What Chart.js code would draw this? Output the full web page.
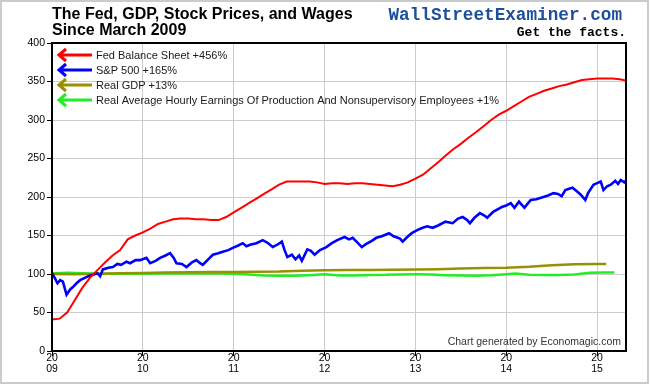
<!DOCTYPE html>
<html>
<head>
<meta charset="utf-8">
<title>The Fed, GDP, Stock Prices, and Wages</title>
<script src="https://cdn.jsdelivr.net/npm/chart.js@4.4.1/dist/chart.umd.min.js"></script>
<style>
  html, body { margin: 0; padding: 0; background: #fff; }
  #chart { display: block; }
</style>
</head>
<body>
<canvas id="chart" width="650" height="385"></canvas>
<script>
/* ===== Data (index, March 2009 = 100) ===== */
const seriesLabels = [
  "Fed Balance Sheet +456%",
  "S&P 500 +165%",
  "Real GDP +13%",
  "Real Average Hourly Earnings Of Production And Nonsupervisory Employees +1%",
];

const yearTicks = [2009, 2010, 2011, 2012, 2013, 2014, 2015];

// Fed balance sheet, monthly from Jan 2009
const fedStartYear = 2009;
const fedValues = [
  41, 42, 50, 66, 82, 95, 105, 115, 124, 131, 145, 150,
  154, 159, 165, 168, 171, 172, 172, 171, 171, 170, 170, 174,
  180, 186, 192, 198, 204, 210, 216, 220, 220, 220, 220, 219,
  217, 218, 218, 217, 218, 218, 217, 216, 215, 214, 216, 219,
  224, 229, 237, 245, 254, 262, 269, 277, 284, 292, 300, 307,
  312, 318, 324, 330, 334, 338, 341, 344, 346, 349, 352, 353,
  354, 354, 354, 353, 351,
];

// S&P 500
const spxYears = [
  2009.00, 2009.03, 2009.06, 2009.09, 2009.12, 2009.16, 2009.20, 2009.23, 2009.27, 2009.31,
  2009.36, 2009.40, 2009.45, 2009.50, 2009.53, 2009.56, 2009.62, 2009.67, 2009.72, 2009.76,
  2009.82, 2009.86, 2009.92, 2009.97, 2010.04, 2010.08, 2010.14, 2010.19, 2010.25, 2010.30,
  2010.34, 2010.37, 2010.43, 2010.48, 2010.54, 2010.59, 2010.63, 2010.66, 2010.72, 2010.77,
  2010.83, 2010.88, 2010.94, 2010.99, 2011.05, 2011.10, 2011.14, 2011.18, 2011.25, 2011.32,
  2011.38, 2011.43, 2011.48, 2011.53, 2011.56, 2011.59, 2011.64, 2011.68, 2011.72, 2011.75,
  2011.81, 2011.85, 2011.89, 2011.95, 2012.02, 2012.08, 2012.14, 2012.22, 2012.27, 2012.31,
  2012.36, 2012.41, 2012.46, 2012.52, 2012.57, 2012.63, 2012.71, 2012.76, 2012.83, 2012.86,
  2012.91, 2012.96, 2013.02, 2013.08, 2013.13, 2013.19, 2013.25, 2013.33, 2013.41, 2013.47,
  2013.52, 2013.57, 2013.60, 2013.65, 2013.71, 2013.76, 2013.79, 2013.86, 2013.92, 2013.95,
  2014.00, 2014.05, 2014.09, 2014.14, 2014.20, 2014.24, 2014.27, 2014.33, 2014.41, 2014.46,
  2014.52, 2014.57, 2014.61, 2014.65, 2014.70, 2014.73, 2014.78, 2014.82, 2014.87, 2014.90,
  2014.96, 2015.00, 2015.04, 2015.07, 2015.11, 2015.15, 2015.20, 2015.23, 2015.26, 2015.30,
  2015.33,
];
const spxValues = [
  101, 95, 88, 92, 90, 73, 80, 83, 88, 92,
  95, 97, 99, 101, 97, 106, 108, 109, 113, 112,
  116, 114, 118, 118, 121, 114, 117, 121, 124, 127,
  121, 114, 113, 109, 115, 118, 114, 112, 119, 125,
  127, 129, 131, 134, 137, 140, 136, 138, 140, 144,
  140, 135, 138, 142, 131, 122, 125, 119, 124, 117,
  132, 130, 125, 131, 135, 140, 144, 148, 145, 147,
  141, 135, 139, 143, 147, 149, 153, 149, 146, 142,
  148, 153, 157, 160, 162, 160, 163, 168, 166, 172,
  174, 170, 166, 173, 179, 176, 173, 181, 185, 187,
  189, 192, 186, 194, 186, 192, 196, 197, 200, 202,
  205, 204, 201, 209, 211, 212, 207, 203, 196, 205,
  216, 218, 220, 209, 214, 216, 221, 217, 222, 219,
  223,
];

// Real GDP, quarterly
const gdpYears = [
  2009.00, 2009.25, 2009.50, 2009.75, 2010.00, 2010.25, 2010.50, 2010.75,
  2011.00, 2011.25, 2011.50, 2011.75, 2012.00, 2012.25, 2012.50, 2012.75,
  2013.00, 2013.25, 2013.50, 2013.75, 2014.00, 2014.25, 2014.50, 2014.75,
  2015.00, 2015.10,
];
const gdpValues = [
  100, 99.8, 100.2, 101, 101.3, 101.8, 102.3, 102.6,
  102.6, 103, 103.2, 104.3, 104.8, 105.1, 105.3, 105.4,
  106, 106.2, 107, 107.9, 108.2, 109.3, 111.5, 112.8,
  113.1, 113.1,
];

// Real average hourly earnings
const wageYears = [
  2009.00, 2009.17, 2009.33, 2009.50, 2009.67, 2009.83, 2010.00, 2010.17, 2010.33, 2010.50,
  2010.67, 2010.83, 2011.00, 2011.17, 2011.33, 2011.50, 2011.67, 2011.83, 2012.00, 2012.17,
  2012.33, 2012.50, 2012.67, 2012.83, 2013.00, 2013.17, 2013.33, 2013.50, 2013.67, 2013.83,
  2014.00, 2014.10, 2014.25, 2014.42, 2014.58, 2014.75, 2014.92, 2015.08, 2015.19,
];
const wageValues = [
  100.5, 101.5, 101, 100.3, 100.3, 100.6, 100.3, 100.5, 100.8, 100.8,
  100.8, 100.7, 100.3, 99.2, 98.2, 97.6, 97.7, 98.5, 99.6, 98,
  98.2, 98.8, 98.9, 99.5, 99.6, 99.3, 98.5, 98, 97.8, 98.5,
  99.8, 100.8, 99, 98.8, 98.8, 99.5, 101.5, 102, 102,
];

const seriesColors = ["#ff0000", "#0000ff", "#999000", "#22ee22"];

/* ===== Helpers ===== */
function pairUp(xs, ys) {
  return ys.map((y, i) => ({ x: xs[i], y }));
}

function monthly(startYear, values) {
  return values.map((y, i) => ({ x: startYear + i / 12, y }));
}

function drawArrow(ctx, x0, x1, y, color) {
  ctx.save();
  ctx.strokeStyle = color;
  ctx.lineWidth = 3;
  ctx.lineJoin = "miter";
  ctx.beginPath();
  ctx.moveTo(x0 + 1, y);
  ctx.lineTo(x1, y);
  ctx.moveTo(x0 + 8, y - 6);
  ctx.lineTo(x0 + 1, y);
  ctx.lineTo(x0 + 8, y + 6);
  ctx.stroke();
  ctx.restore();
}

/* ===== Decorations: frame, titles, legend, credit ===== */
const decorations = {
  id: "decorations",
  beforeDraw(chart) {
    const { ctx, width, height } = chart;
    ctx.save();
    ctx.fillStyle = "#ffffff";
    ctx.fillRect(0, 0, width, height);
    ctx.strokeStyle = "#cbcbcb";
    ctx.lineWidth = 2;
    ctx.strokeRect(1, 1, width - 3, height - 3);
    ctx.restore();
  },
  afterDatasetsDraw(chart) {
    const { ctx, chartArea: a } = chart;
    ctx.save();
    ctx.strokeStyle = "#000";
    ctx.lineWidth = 2;
    ctx.strokeRect(a.left, a.top, a.right - a.left, a.bottom - a.top);
    ctx.restore();
  },
  afterDraw(chart) {
    const { ctx, chartArea: a } = chart;
    ctx.save();

    // title
    ctx.fillStyle = "#000";
    ctx.textAlign = "left";
    ctx.textBaseline = "alphabetic";
    ctx.font = "bold 16px Arial, 'Liberation Sans', sans-serif";
    ctx.fillText("The Fed, GDP, Stock Prices, and Wages", 52, 19);
    ctx.fillText("Since March 2009", 52, 35);

    // brand
    ctx.textAlign = "right";
    ctx.font = "bold 17.7px 'Liberation Mono', 'Courier New', monospace";
    ctx.fillStyle = "#1d4f9b";
    ctx.fillText("WallStreetExaminer.com", 622, 20);
    ctx.font = "bold 13px 'Liberation Mono', 'Courier New', monospace";
    ctx.fillStyle = "#000";
    ctx.fillText("Get the facts.", 626, 36);

    // legend
    ctx.textAlign = "left";
    ctx.textBaseline = "middle";
    ctx.font = "11px Arial, 'Liberation Sans', sans-serif";
    chart.data.datasets.forEach((ds, i) => {
      const y = a.top + 12 + i * 15;
      drawArrow(ctx, a.left + 6, a.left + 40, y, ds.borderColor);
      ctx.fillStyle = "#1a1a1a";
      ctx.fillText(ds.label, a.left + 44, y + 0.5);
    });

    // credit
    ctx.textAlign = "right";
    ctx.textBaseline = "alphabetic";
    ctx.font = "10.5px Arial, 'Liberation Sans', sans-serif";
    ctx.fillStyle = "#333";
    ctx.fillText("Chart generated by Economagic.com", a.right - 5, a.bottom - 6);

    ctx.restore();
  },
};

/* ===== Chart ===== */
const ctx = document.getElementById("chart").getContext("2d");

new Chart(ctx, {
  type: "line",
  data: {
    datasets: [
      { label: seriesLabels[0], data: monthly(fedStartYear, fedValues), borderColor: seriesColors[0], borderWidth: 2 },
      { label: seriesLabels[1], data: pairUp(spxYears, spxValues), borderColor: seriesColors[1], borderWidth: 2.6 },
      { label: seriesLabels[2], data: pairUp(gdpYears, gdpValues), borderColor: seriesColors[2], borderWidth: 2.5 },
      { label: seriesLabels[3], data: pairUp(wageYears, wageValues), borderColor: seriesColors[3], borderWidth: 2.5 },
    ],
  },
  options: {
    responsive: false,
    animation: false,
    devicePixelRatio: 1,
    layout: { padding: { top: 43, right: 24, left: 0, bottom: 0 } },
    elements: { point: { radius: 0 }, line: { tension: 0, fill: false } },
    plugins: { legend: { display: false }, tooltip: { enabled: false }, title: { display: false } },
    scales: {
      x: {
        type: "linear",
        min: yearTicks[0],
        max: 2015.318,
        afterFit: (scale) => { scale.height = 34; },
        afterBuildTicks: (scale) => { scale.ticks = yearTicks.map((v) => ({ value: v })); },
        border: { display: false },
        grid: { color: "#cccccc", lineWidth: 1, drawTicks: true, tickLength: 5, tickColor: "#000" },
        ticks: {
          padding: -3,
          maxRotation: 0,
          autoSkip: false,
          color: "#000",
          font: { family: "Arial, 'Liberation Sans', sans-serif", size: 10.5, lineHeight: 1 },
          callback: (v) => { const s = String(v); return [s.slice(0, 2), s.slice(2)]; },
        },
      },
      y: {
        min: 0,
        max: 400,
        afterFit: (scale) => { scale.width = 52; },
        border: { display: false },
        grid: { color: "#cccccc", lineWidth: 1, drawTicks: true, tickLength: 5, tickColor: "#000" },
        ticks: {
          stepSize: 50,
          padding: 2,
          color: "#000",
          font: { family: "Arial, 'Liberation Sans', sans-serif", size: 10.5 },
        },
      },
    },
  },
  plugins: [decorations],
});
</script>
</body>
</html>
